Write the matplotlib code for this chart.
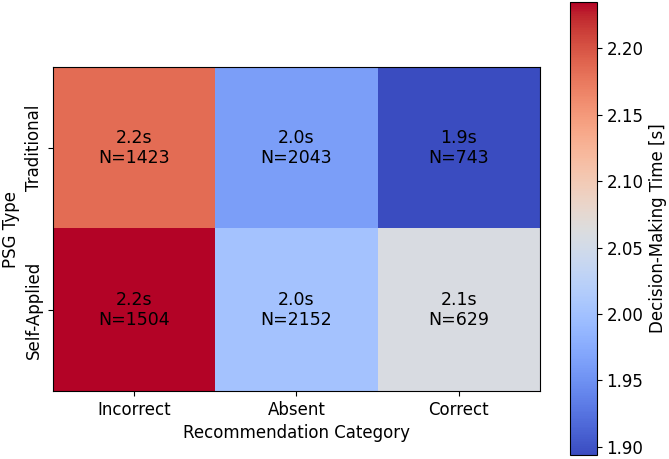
import matplotlib
matplotlib.use("Agg")
import matplotlib.pyplot as plt
import numpy as np

# rows: PSG type, cols: recommendation category
rows = ["Traditional", "Self-Applied"]
cols = ["Incorrect", "Absent", "Correct"]
mean_time = np.array(
    [
        [2.184, 1.962, 1.894],
        [2.235, 2.003, 2.058],
    ]
)
counts = np.array(
    [
        [1423, 2043, 743],
        [1504, 2152, 629],
    ]
)
cbar_ticks = [1.90, 1.95, 2.00, 2.05, 2.10, 2.15, 2.20]

fig = plt.figure(figsize=(6.69, 4.59), dpi=100)
ax = fig.add_axes([0.079, 0.148, 0.728, 0.706])
cax = fig.add_axes([0.852, 0.009, 0.040, 0.987])

im = ax.imshow(mean_time, cmap="coolwarm", aspect="auto",
               vmin=mean_time.min(), vmax=mean_time.max())

for i in range(len(rows)):
    for j in range(len(cols)):
        ax.text(j, i, f"{mean_time[i, j]:.1f}s\nN={counts[i, j]}",
                ha="center", va="center", fontsize=12.5, color="black",
                linespacing=1.1)

ax.set_xticks(range(len(cols)))
ax.set_xticklabels(cols, fontsize=12)
ax.set_yticks(range(len(rows)))
ax.set_yticklabels(rows, fontsize=12, rotation=90, va="center")
ax.set_xlabel("Recommendation Category", fontsize=12)
ax.set_ylabel("PSG Type", fontsize=12)

cb = fig.colorbar(im, cax=cax)
cb.set_ticks(cbar_ticks)
cb.ax.tick_params(labelsize=12)
cb.set_label("Decision-Making Time [s]", fontsize=12)

fig.savefig("out.png", dpi=100)
